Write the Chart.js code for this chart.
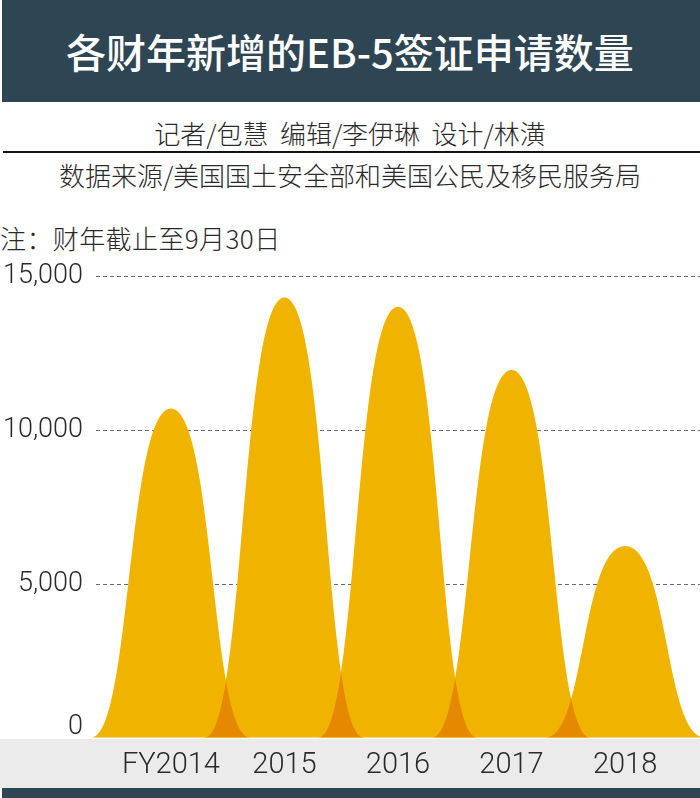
<!DOCTYPE html>
<html>
<head>
<meta charset="utf-8">
<script src="https://cdn.jsdelivr.net/npm/chart.js@4/dist/chart.umd.min.js"></script>
<style>
  html, body { margin: 0; padding: 0; background: #ffffff; }
  #page { position: relative; width: 700px; height: 798px; overflow: hidden; background: #ffffff; }
  .cjk { font-family: "Noto Sans CJK SC", "Noto Sans", sans-serif; }
  #header { position: absolute; left: 2px; top: 0; width: 698px; height: 102px; background: #2e4553; }
  #title { position: absolute; left: 0; top: 0; width: 700px; height: 102px; line-height: 102px; text-align: center; color: #ffffff; font-size: 40px; font-weight: 500; }
  #byline { position: absolute; left: 0; top: 113px; width: 700px; height: 40px; line-height: 40px; text-align: center; color: #2a2a2a; font-size: 26px; font-weight: 300; }
  #rule { position: absolute; left: 3px; top: 151px; width: 697px; height: 2px; background: #111; }
  #source { position: absolute; left: 0; top: 155px; width: 700px; height: 40px; line-height: 40px; text-align: center; color: #2a2a2a; font-size: 26px; font-weight: 300; }
  #note { position: absolute; left: 0; top: 218px; height: 40px; line-height: 40px; color: #2a2a2a; font-size: 26px; font-weight: 300; white-space: nowrap; letter-spacing: 0.4px; }
  #band { position: absolute; left: 0; top: 739px; width: 700px; height: 49px; background: #ebebeb; }
  #footer { position: absolute; left: 2px; top: 788px; width: 698px; height: 10px; background: #2e4553; }
  #chart { position: absolute; left: 0; top: 0; }
</style>
</head>
<body>
<div id="page">
  <div id="header"></div>
  <div id="title" class="cjk">各财年新增的EB-5签证申请数量</div>
  <div id="byline" class="cjk">记者/包慧&nbsp;&nbsp;编辑/李伊琳&nbsp;&nbsp;设计/林潢</div>
  <div id="rule"></div>
  <div id="source" class="cjk">数据来源/美国国土安全部和美国公民及移民服务局</div>
  <div id="note" class="cjk">注：财年截止至9月30日</div>
  <div id="band"></div>
  <div id="footer"></div>
  <canvas id="chart" width="700" height="798"></canvas>
</div>
<script>
// ---- data ----
const categories = ['FY2014', '2015', '2016', '2017', '2018'];
const applications = [10700, 14300, 14000, 11950, 6230];
const yTickValues = [0, 5000, 10000, 15000];

// ---- style ----
const BELL_COLOR = '#f0b400';
const OVERLAP_COLOR = '#e58a00';
const BELL_HALF_WIDTH = 0.7;   // in x-axis units
const NUM_FONT = "Roboto, 'Liberation Sans', sans-serif";

function bellPath(ctx, cx, top, base, w) {
  const c1 = 0.5, c2 = 0.55;
  ctx.beginPath();
  ctx.moveTo(cx - w, base);
  ctx.bezierCurveTo(cx - w + c1 * w, base, cx - c2 * w, top, cx, top);
  ctx.bezierCurveTo(cx + c2 * w, top, cx + w - c1 * w, base, cx + w, base);
  ctx.closePath();
}

const bellPlugin = {
  id: 'bells',
  afterDatasetsDraw(chart) {
    const ctx = chart.ctx;
    const meta = chart.getDatasetMeta(0);
    const xs = chart.scales.x;
    const w = xs.getPixelForValue(BELL_HALF_WIDTH) - xs.getPixelForValue(0);
    const els = meta.data;
    ctx.save();
    ctx.fillStyle = BELL_COLOR;
    els.forEach(el => { bellPath(ctx, el.x, el.y, el.base, w); ctx.fill(); });
    for (let i = 0; i < els.length - 1; i++) {
      const a = els[i], b = els[i + 1];
      ctx.save();
      bellPath(ctx, a.x, a.y, a.base, w);
      ctx.clip();
      bellPath(ctx, b.x, b.y, b.base, w);
      ctx.fillStyle = OVERLAP_COLOR;
      ctx.fill();
      ctx.restore();
    }
    ctx.restore();
  }
};

new Chart(document.getElementById('chart'), {
  type: 'bar',
  data: {
    datasets: [{
      data: categories.map((c, i) => ({ x: i, y: applications[i] })),
      backgroundColor: 'rgba(0,0,0,0)',
      borderWidth: 0
    }]
  },
  options: {
    responsive: false,
    animation: false,
    devicePixelRatio: 1,
    layout: { padding: { top: 276, left: 0, right: 0, bottom: 0 } },
    plugins: { legend: { display: false }, tooltip: { enabled: false }, title: { display: false } },
    scales: {
      x: {
        type: 'linear',
        offset: false,
        min: -0.66,
        max: 4.66,
        grid: { display: false, drawTicks: false },
        border: { display: false },
        afterBuildTicks: ax => { ax.ticks = categories.map((c, i) => ({ value: i })); },
        afterFit: s => { s.height = 60; },
        ticks: {
          autoSkip: false,
          maxRotation: 0,
          padding: 10,
          color: '#2a2a2a',
          font: { family: NUM_FONT, size: 29, weight: 300 },
          callback: v => categories[v]
        }
      },
      y: {
        min: 0,
        max: 15000,
        z: 1,
        afterBuildTicks: ax => { ax.ticks = yTickValues.map(v => ({ value: v })); },
        afterFit: s => { s.width = 96; },
        grid: {
          drawTicks: false,
          lineWidth: 1,
          color: ctx => (ctx.tick && ctx.tick.value === 0) ? 'rgba(0,0,0,0)' : '#6a6a6a'
        },
        border: { display: false, dash: [4, 3] },
        ticks: {
          padding: 13,
          color: '#2a2a2a',
          font: ctx => ({
            family: NUM_FONT,
            size: 27,
            weight: 300,
            lineHeight: (ctx.tick && ctx.tick.value === 0) ? 0.8 : 1.2
          }),
          callback: v => v === 0 ? ['0', ''] : v.toLocaleString('en-US')
        }
      }
    }
  },
  plugins: [bellPlugin]
});
</script>
</body>
</html>
